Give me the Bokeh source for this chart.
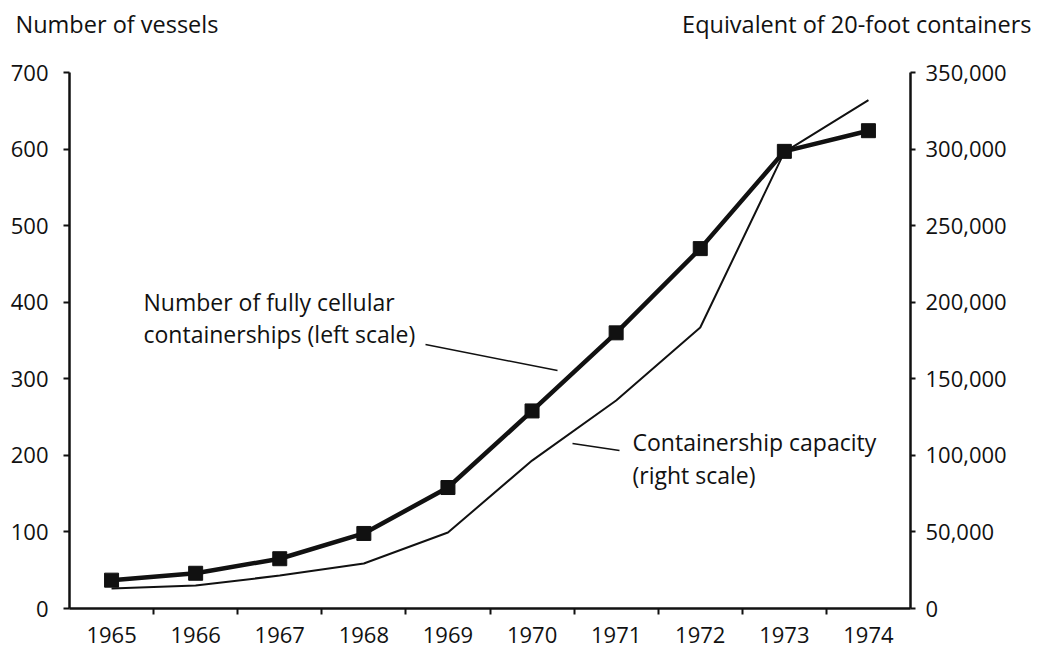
from bokeh.plotting import figure
from bokeh.models import (Range1d, LinearAxis, FixedTicker, NumeralTickFormatter,
                          ColumnDataSource)
from bokeh.core.properties import value
from bokeh.embed import file_html
from bokeh.resources import INLINE

years = [1965, 1966, 1967, 1968, 1969, 1970, 1971, 1972, 1973, 1974]
vessels = [37, 46, 65, 98, 158, 258, 360, 470, 597, 624]
capacity_teu = [13000, 15000, 21500, 29400, 49600, 96600, 135800, 183500, 298000, 332000]
left_ticks = [0, 100, 200, 300, 400, 500, 600, 700]
right_ticks = [0, 50000, 100000, 150000, 200000, 250000, 300000, 350000]
left_title = "Number of vessels"
right_title = "Equivalent of 20-foot containers"

FONT = "Open Sans"
FS = "22px"
INK = "#111111"
W, H = 1036, 648

# pixel geometry of the axes box (canvas px from top-left)
AX_L, AX_R, AX_T, AX_B = 69, 910, 72, 608
X0, X1 = 1964.5, 1974.5
Y0, Y1 = 0, 700
CAP_MAX = 350000
kx = (AX_R - AX_L) / (X1 - X0)
ky = (AX_B - AX_T) / (Y1 - Y0)
xr = Range1d(X0 - AX_L / kx, X1 + (W - AX_R) / kx)
yr = Range1d(Y0 - (H - AX_B) / ky, Y1 + AX_T / ky)
f = CAP_MAX / Y1
cap_r = Range1d(yr.start * f, yr.end * f)

p = figure(width=W, height=H, output_backend="svg", toolbar_location=None,
           x_range=xr, y_range=yr, min_border=0, min_border_left=0,
           min_border_right=0, min_border_top=0, min_border_bottom=0)
p.outline_line_color = None
p.xgrid.visible = False
p.ygrid.visible = False
p.extra_y_ranges = {"cap": cap_r}

xa = p.xaxis[0]
xa.fixed_location = Y0
xa.bounds = (X0, X1)
xa.ticker = FixedTicker(ticks=years, minor_ticks=[y + 0.5 for y in years[:-1]])
xa.major_tick_out = 0
xa.major_tick_in = 0
xa.minor_tick_out = 6
xa.minor_tick_in = 0
xa.minor_tick_line_width = 2
xa.minor_tick_line_color = INK

ya = p.yaxis[0]
ya.fixed_location = X0
ya.bounds = (Y0, Y1)
ya.ticker = FixedTicker(ticks=left_ticks)
ya.minor_tick_line_color = None
ya.major_tick_out = 6
ya.major_tick_in = 0

ra = LinearAxis(y_range_name="cap", ticker=FixedTicker(ticks=right_ticks),
                formatter=NumeralTickFormatter(format="0,0"),
                fixed_location=X1, bounds=(0, CAP_MAX))
ra.minor_tick_line_color = None
ra.major_tick_out = 5
ra.major_tick_in = 0
p.add_layout(ra, "right")

for ax in (xa, ya, ra):
    ax.axis_line_width = 2.5
    ax.axis_line_color = INK
    ax.major_tick_line_width = 2
    ax.major_tick_line_color = INK
    ax.major_label_text_font = FONT
    ax.major_label_text_font_size = FS
    ax.major_label_text_color = INK
xa.major_label_standoff = 12
ya.major_label_standoff = 15
ra.major_label_standoff = 10

p.line(years, capacity_teu, y_range_name="cap", line_color=INK, line_width=2)
p.line(years, vessels, line_color=INK, line_width=4.5)
p.scatter(years, vessels, marker="square", size=14, fill_color=INK, line_color=INK)

def px_x(px):
    return xr.start + px / kx

def px_y(py):
    return yr.end - py / ky

def txt(px, py, t, align="left", size=FS):
    p.text(x=[px_x(px)], y=[px_y(py)], text=[t], text_font=value(FONT),
           text_font_size=size, text_color=INK, text_align=align,
           text_baseline="middle")

# axis titles
TFS = "23.5px"
txt(15, 23.5, left_title, size=TFS)
txt(1031, 23.5, right_title, align="right", size=TFS)

# annotations (text placed by caps centre)
AFS = "23px"
txt(143, 301.5, "Number of fully cellular", size=AFS)
txt(143, 333.5, "containerships (left scale)", size=AFS)
txt(632, 441.5, "Containership capacity", size=AFS)
txt(632, 474.5, "(right scale)", size=AFS)

src = ColumnDataSource(dict(x0=[px_x(425), px_x(572)], y0=[px_y(344), px_y(443)],
                            x1=[px_x(557), px_x(619)], y1=[px_y(370), px_y(450)]))
p.segment("x0", "y0", "x1", "y1", source=src, line_color=INK, line_width=1.5)

open("out.html", "w").write(file_html(p, INLINE))
